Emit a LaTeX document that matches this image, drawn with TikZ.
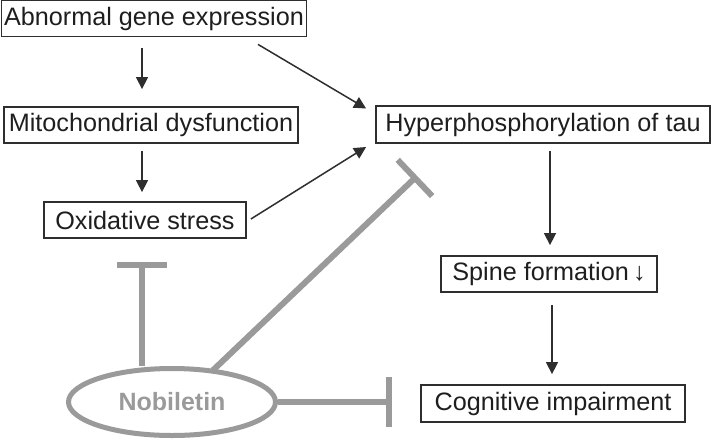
\documentclass[tikz,border=0pt]{standalone}
\usepackage{fontspec}
\setmainfont{Liberation Sans}
\usetikzlibrary{arrows.meta,shapes.geometric,calc}
\definecolor{dk}{HTML}{2E2E2E}
\definecolor{tx}{HTML}{1E1E1E}
\definecolor{gr}{HTML}{9A9A9A}
\begin{document}
\begin{tikzpicture}[x=1pt,y=-1pt,
  box/.style={draw=dk,line width=1.8pt,text=tx,inner sep=0pt,minimum height=36pt,
    font=\fontsize{25.2}{29}\selectfont},
  arr/.style={draw=dk,line width=1.5pt,-{Triangle[length=12pt,width=12pt]}},
  inh/.style={draw=gr,line width=6pt,-{Bar[width=50pt,line width=6pt]}}]
\useasboundingbox (0,0) rectangle (711,439);
\node[box,minimum width=305pt] (gene) at (154,18.5) {Abnormal gene expression};
\node[box,minimum width=294pt] (mito) at (151,125) {Mitochondrial dysfunction};
\node[box,minimum width=202pt] (ox) at (145,220) {Oxidative stress};
\node[box,minimum width=334pt,minimum height=37pt] (hyper) at (543,124.5) {Hyperphosphorylation of tau};
\node[box,minimum width=216pt] (spine) at (549,274) {Spine formation\,↓};
\node[box,minimum width=264pt,minimum height=37pt] (cog) at (553,403.5) {Cognitive impairment};
\node[draw=gr,line width=5pt,ellipse,minimum width=207pt,minimum height=67pt,inner sep=0pt,
  text=gr,font=\fontsize{25}{29}\selectfont\bfseries] (nob) at (172,402) {Nobiletin};
% arrows
\draw[arr,shorten <=11pt,shorten >=17pt] ([xshift=-12pt]gene.south) -- ([xshift=-9pt]mito.north);
\draw[arr,shorten <=7pt,shorten >=9pt] ([xshift=-9pt]mito.south) -- ([xshift=-3pt]ox.north);
\draw[arr] ($(gene.south)+(104,7)$) -- ($(hyper.west)+(-9,-16)$);
\draw[arr] ($(ox.east)+(4,-1)$) -- ($(hyper.west)+(-9,22.5)$);
\draw[arr,shorten <=7pt,shorten >=10pt] ([xshift=7pt]hyper.south) -- ([xshift=1pt]spine.north);
\draw[arr,shorten <=12pt,shorten >=10pt] ([xshift=3pt]spine.south) -- ([xshift=-1pt]cog.north);
% inhibitions
\coordinate (t1) at ($(ox.south)+(-3.5,23)$);
\draw[inh] (nob.north -| t1) -- (t1);
\coordinate (t2) at ($(hyper.south west)+(42,32)$);
\draw[inh,shorten <=-2pt] (nob.38) -- (t2);
\draw[inh] (nob.east) -- ($(cog.west)+(-28,-1.5)$);
\end{tikzpicture}
\end{document}
